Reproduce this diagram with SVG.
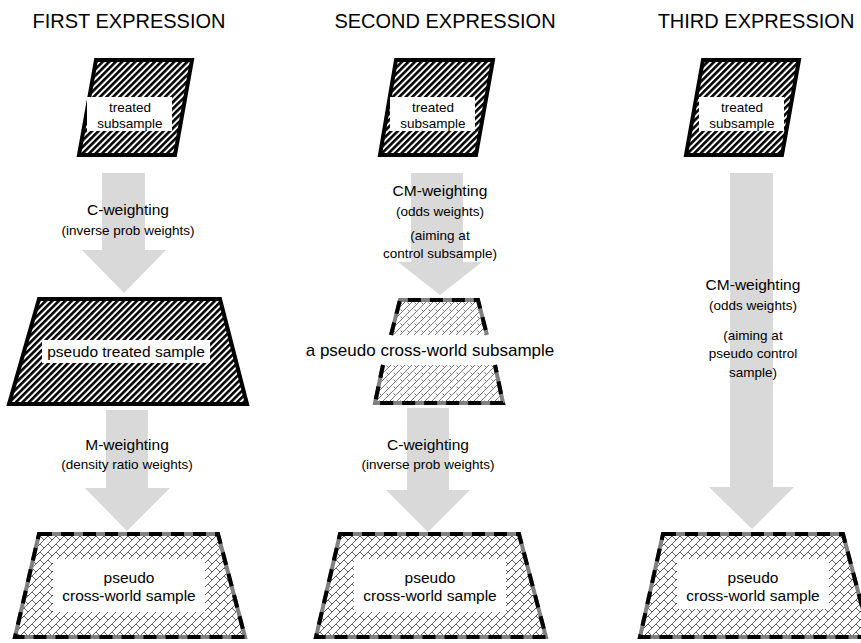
<svg xmlns="http://www.w3.org/2000/svg" width="861" height="643" viewBox="0 0 861 643">
<defs>
<pattern id="hatch" patternUnits="userSpaceOnUse" width="4.6" height="4.6" patternTransform="rotate(45)">
<rect x="0" y="0" width="4.6" height="4.6" fill="#fff"/>
<rect x="0" y="0" width="2.6" height="4.6" fill="#000"/>
</pattern>
<pattern id="brick" patternUnits="userSpaceOnUse" width="8" height="8">
<rect width="8" height="8" fill="#fff"/>
<path d="M-1,9 L9,-1 M-1,1 L1,-1 M7,9 L9,7 M0,0 L4,4 M4,4 L8,0" stroke="#555" stroke-width="0.9" fill="none"/>
</pattern>
<pattern id="divot" patternUnits="userSpaceOnUse" width="7" height="7">
<rect width="7" height="7" fill="#fff"/>
<path d="M1,6 L6,1 M1.5,1.5 L3.5,3.5 M-1,8 L1,6 M6,1 L8,-1" stroke="#666" stroke-width="0.9" fill="none"/>
</pattern>
<style>
.title{font-family:"Liberation Sans",Arial,sans-serif;font-size:20px;fill:#000;text-anchor:middle}
.lbl{font-family:"Liberation Sans",Arial,sans-serif;font-size:15.5px;fill:#000;text-anchor:middle}
.big{font-family:"Liberation Sans",Arial,sans-serif;font-size:17px;fill:#000;text-anchor:middle}
.sm{font-family:"Liberation Sans",Arial,sans-serif;font-size:13.5px;fill:#000;text-anchor:middle}
.tl{font-family:"Liberation Sans",Arial,sans-serif;font-size:13.5px;fill:#000;text-anchor:middle}
.arrow{fill:#d9d9d9}
.treated{fill:url(#hatch);stroke:#000;stroke-width:4;stroke-linejoin:miter}
.cwfill{fill:url(#brick);stroke:none}
.cwfill2{fill:url(#divot);stroke:none}
.gray{fill:none;stroke:#808080;stroke-width:4}
.dash{fill:none;stroke:#000;stroke-width:4;stroke-dasharray:13 9}
.box{fill:#fff}
</style>
</defs>

<g id="titles">
<text class="title" x="129" y="28">FIRST EXPRESSION</text>
<text class="title" x="445" y="28">SECOND EXPRESSION</text>
<text class="title" x="756" y="28">THIRD EXPRESSION</text>
</g>

<g id="connectors">
<polygon class="arrow" points="102,173 145,173 145,250 166,250 124,293 82,250 102,250"/>
<polygon class="arrow" points="106,410 148,410 148,488 170,488 127,531 85,488 106,488"/>
<polygon class="arrow" points="411,173 463,173 463,262 482,262 440,295 398,262 411,262"/>
<polygon class="arrow" points="407,408 449,408 449,490 470,490 428,532 386,490 407,490"/>
<polygon class="arrow" points="730,173 773,173 773,487 794,487 752,529 709,487 730,487"/>
<text class="lbl" x="128" y="215">C-weighting</text>
<text class="sm" x="128" y="235">(inverse prob weights)</text>
<text class="lbl" x="127" y="450">M-weighting</text>
<text class="sm" x="127" y="469">(density ratio weights)</text>
<text class="lbl" x="440" y="196">CM-weighting</text>
<text class="sm" x="440" y="216">(odds weights)</text>
<text class="sm" x="440" y="240">(aiming at</text>
<text class="sm" x="440" y="258">control subsample)</text>
<text class="lbl" x="428" y="450">C-weighting</text>
<text class="sm" x="428" y="469">(inverse prob weights)</text>
<text class="lbl" x="753" y="290">CM-weighting</text>
<text class="sm" x="753" y="310">(odds weights)</text>
<text class="sm" x="753" y="340">(aiming at</text>
<text class="sm" x="753" y="358">pseudo control</text>
<text class="sm" x="753" y="377">sample)</text>
</g>

<g id="treated1">
<polygon class="treated" points="96,60 192,60 175,155 79,155"/>
<rect class="box" x="87" y="97" width="85" height="34"/>
<text class="tl" x="130" y="112">treated</text>
<text class="tl" x="130" y="128">subsample</text>
</g>
<g id="treated2">
<polygon class="treated" points="396,60 493,60 476,155 380,155"/>
<rect class="box" x="390" y="97" width="85" height="34"/>
<text class="tl" x="433" y="112">treated</text>
<text class="tl" x="433" y="128">subsample</text>
</g>
<g id="treated3">
<polygon class="treated" points="703,60 799,60 782,155 686,155"/>
<rect class="box" x="699" y="97" width="85" height="34"/>
<text class="tl" x="742" y="112">treated</text>
<text class="tl" x="742" y="128">subsample</text>
</g>

<g id="pseudotreated">
<polygon class="treated" points="39,299 220,299 247,404 9,404"/>
<rect class="box" x="42" y="340" width="168" height="23"/>
<text class="lbl" x="126" y="357">pseudo treated sample</text>
</g>

<g id="crossworldsub">
<polygon class="cwfill2" points="400,300 478,300 487,335 391,335"/>
<path class="gray" d="M391,335 L400,300 L478,300 L487,335"/>
<path class="dash" d="M391,335 L400,300 L478,300 L487,335"/>
<polygon class="cwfill2" points="383,365 495,365 503,403 375,403"/>
<path class="gray" d="M383,365 L375,403 L503,403 L495,365"/>
<path class="dash" d="M383,365 L375,403 L503,403 L495,365"/>
<text class="big" x="430" y="356">a pseudo cross-world subsample</text>
</g>

<g id="crossworld1">
<polygon class="cwfill" points="39,534 218,534 245,637 15,637"/>
<path class="gray" d="M39,534 L218,534 L245,637 L15,637 Z"/>
<path class="dash" d="M39,534 L218,534 L245,637 L15,637 Z"/>
<rect class="box" x="53" y="559" width="152" height="53"/>
<text class="lbl" x="129" y="583">pseudo</text>
<text class="lbl" x="129" y="601">cross-world sample</text>
</g>
<g id="crossworld2">
<polygon class="cwfill" points="340,534 519,534 546,637 316,637"/>
<path class="gray" d="M340,534 L519,534 L546,637 L316,637 Z"/>
<path class="dash" d="M340,534 L519,534 L546,637 L316,637 Z"/>
<rect class="box" x="354" y="559" width="152" height="53"/>
<text class="lbl" x="430" y="583">pseudo</text>
<text class="lbl" x="430" y="601">cross-world sample</text>
</g>
<g id="crossworld3">
<polygon class="cwfill" points="663,534 843,534 870,637 640,637"/>
<path class="gray" d="M663,534 L843,534 L870,637 L640,637 Z"/>
<path class="dash" d="M663,534 L843,534 L870,637 L640,637 Z"/>
<rect class="box" x="677" y="559" width="152" height="50"/>
<text class="lbl" x="753" y="583">pseudo</text>
<text class="lbl" x="753" y="601">cross-world sample</text>
</g>
</svg>
